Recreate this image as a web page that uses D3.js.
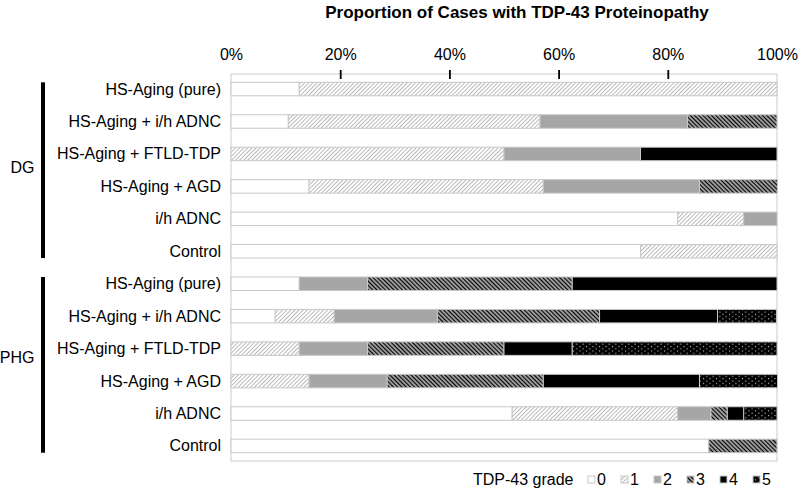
<!DOCTYPE html>
<html><head><meta charset="utf-8">
<script src="https://cdn.jsdelivr.net/npm/d3@7"></script>
<style>body{margin:0;background:#fff;} text{font-family:"Liberation Sans",Arial,sans-serif;}</style>
</head><body><svg id="c" width="800" height="492"></svg>
<script>
const groups = ["DG", "PHG"];
const rowLabels = ["HS-Aging (pure)", "HS-Aging + i/h ADNC", "HS-Aging + FTLD-TDP", "HS-Aging + AGD", "i/h ADNC", "Control"];
const grades = ["0", "1", "2", "3", "4", "5"];
// percent of cases per TDP-43 grade (0..5)
const dgValues = [
  [12.5, 87.5, 0, 0, 0, 0],
  [10.5, 46.1, 27.0, 16.4, 0, 0],
  [0, 50, 25, 0, 25, 0],
  [14.3, 42.9, 28.6, 14.3, 0, 0],
  [81.8, 12.1, 6.1, 0, 0, 0],
  [75, 25, 0, 0, 0, 0]
];
const phgValues = [
  [12.5, 0, 12.5, 37.5, 37.5, 0],
  [8.1, 10.8, 18.9, 29.7, 21.6, 10.8],
  [0, 12.5, 12.5, 25, 12.5, 37.5],
  [0, 14.3, 14.3, 28.6, 28.6, 14.3],
  [51.5, 30.3, 6.1, 3.0, 3.0, 6.1],
  [87.5, 0, 0, 12.5, 0, 0]
];
const tickLabels = ["0%", "20%", "40%", "60%", "80%", "100%"];
const title = "Proportion of Cases with TDP-43 Proteinopathy";
const legendTitle = "TDP-43 grade";

(function(){
const svg = d3.select("#c");
const defs = svg.append("defs");
function hatch(id, color, size, sw, angle){
  const p = defs.append("pattern").attr("id", id).attr("patternUnits","userSpaceOnUse")
    .attr("width", size).attr("height", size).attr("patternTransform", `rotate(${angle})`);
  p.append("rect").attr("width", size).attr("height", size).attr("fill", "#fff");
  p.append("line").attr("x1", size/2).attr("x2", size/2).attr("y1", 0).attr("y2", size)
    .attr("stroke", color).attr("stroke-width", sw);
}
hatch("p1", "#b8b8b8", 2.9, 1, 45);
hatch("p3", "#000", 3, 1.8, -45);
const p5 = defs.append("pattern").attr("id","p5").attr("patternUnits","userSpaceOnUse").attr("width",6.5).attr("height",4.6);
p5.append("rect").attr("width",6.5).attr("height",4.6).attr("fill","#000");
p5.append("rect").attr("x",1).attr("y",1).attr("width",1).attr("height",1).attr("fill","#fff");
p5.append("rect").attr("x",4.2).attr("y",3.3).attr("width",1).attr("height",1).attr("fill","#fff");

const fills = ["#fff", "url(#p1)", "#a6a6a6", "url(#p3)", "#000", "url(#p5)"];

const pL = 231, pR = 777, pT = 74, pB = 461;
const rows = [];
groups.forEach((g, gi) => {
  const vals = gi === 0 ? dgValues : phgValues;
  rowLabels.forEach((r, ri) => rows.push({key: g + "|" + r, group: g, label: r, values: vals[ri]}));
});

const x = d3.scaleLinear().domain([0, 100]).range([pL, pR]);
const y = d3.scaleBand().domain(rows.map(d => d.key)).range([pT, pB]).paddingInner(0.584).paddingOuter(0.256);

svg.append("text").attr("x", 517).attr("y", 18).attr("text-anchor","middle")
  .attr("font-weight","bold").attr("font-size", 17).attr("fill","#000").text(title);

svg.append("rect").attr("x", pL).attr("y", pT).attr("width", pR-pL).attr("height", pB-pT)
  .attr("fill","none").attr("stroke","#d4d4d4").attr("stroke-width",1.2);

const tickVals = [0, 20, 40, 60, 80, 100];
const ax = svg.append("g").attr("transform", `translate(0,${pT})`)
  .call(d3.axisTop(x).tickValues(tickVals).tickFormat((d,i) => tickLabels[i]).tickSize(0).tickPadding(14));
ax.select(".domain").remove();
ax.selectAll("text").attr("font-size", 16).attr("fill","#000").attr("font-family","Liberation Sans, Arial, sans-serif");
const tm = svg.append("g").attr("transform", `translate(0,${pT+5})`)
  .call(d3.axisTop(x).tickValues([20,40,60,80]).tickSize(9).tickFormat(""));
tm.select(".domain").remove();
tm.selectAll("line").attr("stroke","#000").attr("stroke-width",1.8);

const rowG = svg.append("g").selectAll("g").data(rows).join("g");
rowG.each(function(d){
  let cum = 0;
  const segs = d.values.map((v, i) => { const s = {g: i, x0: cum, x1: cum + v}; cum += v; return s; }).filter(s => s.x1 - s.x0 > 0);
  d3.select(this).selectAll("rect").data(segs).join("rect")
    .attr("x", s => x(s.x0)).attr("width", s => x(s.x1) - x(s.x0))
    .attr("y", y(d.key)).attr("height", y.bandwidth())
    .attr("fill", s => fills[s.g]).attr("stroke", "#c8c8c8").attr("stroke-width", 1);
});

svg.append("g").selectAll("text").data(rows).join("text")
  .attr("x", 221).attr("y", d => y(d.key) + y.bandwidth()/2 + 5.5)
  .attr("text-anchor","end").attr("font-size",16).attr("fill","#000").text(d => d.label);

groups.forEach((g, gi) => {
  const gr = rows.filter(r => r.group === g);
  const y0 = y(gr[0].key), y1 = y(gr[gr.length-1].key) + y.bandwidth();
  svg.append("rect").attr("x", 41).attr("y", y0).attr("width", 4).attr("height", y1 - y0).attr("fill","#000");
  svg.append("text").attr("x", 34.5).attr("y", (y0+y1)/2 + (gi === 0 ? 3 : -2)).attr("text-anchor","end")
    .attr("font-size",16).attr("fill","#000").text(g);
});

const lg = svg.append("g");
lg.append("text").attr("x", 473).attr("y", 485).attr("font-size",16).attr("fill","#000").text(legendTitle);
const lx = d3.scalePoint().domain(grades).range([588, 753]);
grades.forEach((gname, i) => {
  lg.append("rect").attr("x", lx(gname)).attr("y", 476).attr("width", 7).attr("height", 7)
    .attr("fill", fills[i]).attr("stroke", "#c8c8c8").attr("stroke-width", 1);
  lg.append("text").attr("x", lx(gname) + 9).attr("y", 485).attr("font-size",16).attr("fill","#000").text(gname);
});
})();
</script></body></html>
